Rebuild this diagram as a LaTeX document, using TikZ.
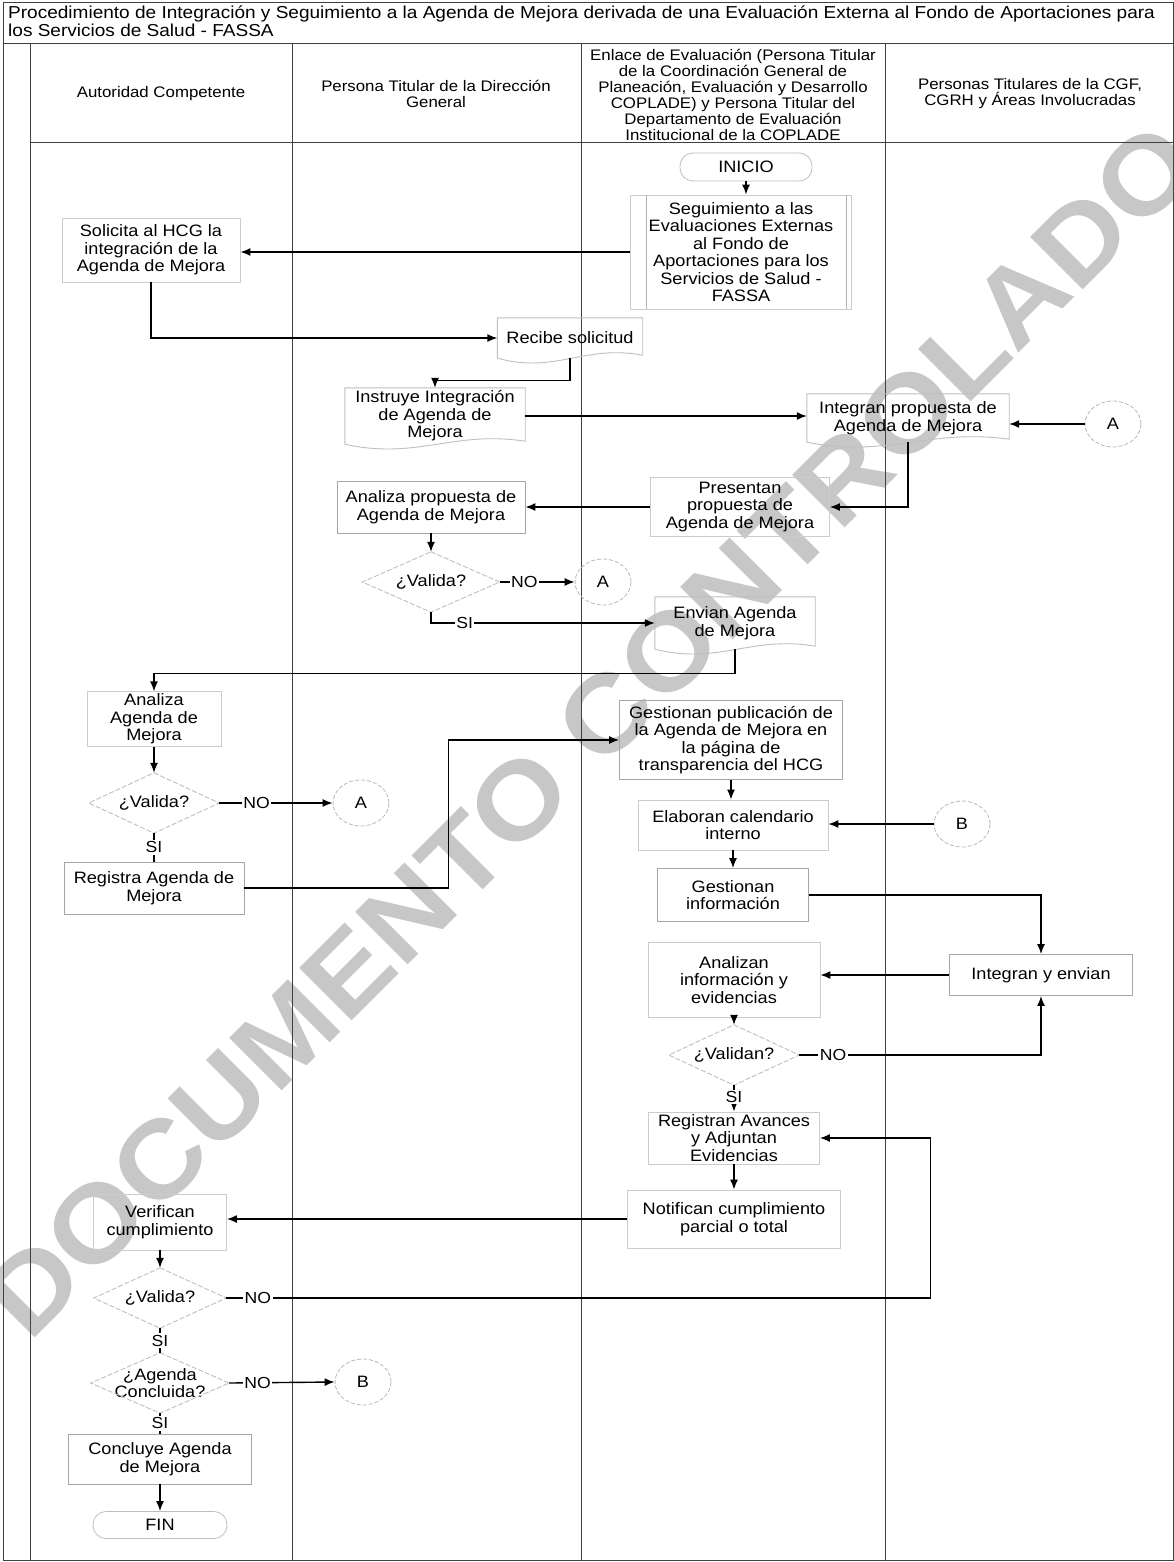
\documentclass[tikz,border=0pt]{standalone}
\usepackage{fontspec}
\setmainfont{Liberation Sans}[FakeStretch=1.1]
\usetikzlibrary{arrows.meta,calc,shapes.geometric}
\tikzset{
  txt/.style={font=\fontsize{16.5}{17.5}\selectfont, align=center, inner sep=2pt},
  pbox/.style={txt, rectangle, draw=gray!70, line width=0.9pt},
  fbox/.style={txt, rectangle, draw=gray!40, line width=0.9pt},
  docnode/.style={txt, rectangle},
  dnode/.style={txt, rectangle, inner sep=0pt},
  fterm/.style={txt, rectangle, draw=gray!50, line width=0.8pt, rounded corners=13pt},
  conn/.style={txt, ellipse, draw=gray!55, line width=0.8pt, dash pattern=on 4pt off 2pt, minimum width=56pt, minimum height=46pt, inner sep=0pt},
  hdr/.style={font=\fontsize{15.3}{16}\selectfont, align=center, inner sep=0pt},
  lane/.style={draw=black!75, line width=1pt},
  flow/.style={draw=black, line width=1.4pt, -{Latex[length=10pt,width=8pt]}},
  plain/.style={draw=black, line width=1.4pt},
  lab/.style={font=\fontsize{16}{16}\selectfont, fill=white, inner sep=1.5pt},
  docline/.style={draw=gray!50, line width=0.9pt},
  dialine/.style={draw=gray!50, line width=0.9pt, dash pattern=on 5pt off 2pt},
  wm/.style={font=\fontsize{108}{108}\selectfont\bfseries, text=black!22, inner sep=0pt}
}
\newcommand{\docshape}[1]{%
  \draw[docline] (#1.south west) -- (#1.north west) -- (#1.north east) -- ([yshift=3pt]#1.south east)
    .. controls ($(#1.south west)!0.6!(#1.south east)+(0,-14)$) and ($(#1.south west)!0.4!(#1.south east)+(0,16)$) .. (#1.south west);}
\newcommand{\diashape}[1]{%
  \draw[dialine] (#1.north) -- (#1.east) -- (#1.south) -- (#1.west) -- cycle;}
\begin{document}
\begin{tikzpicture}[x=1pt,y=-1pt]
\useasboundingbox (0,0) rectangle (1174,1562);
\fill[white] (0,0) rectangle (1174,1562);

% watermark
\node[wm, rotate=45] (wmark) at (590,730) {DOCUMENTO CONTROLADO};

% frame and lanes
\draw[lane] (3,3) rectangle (1173,1560);
\draw[lane] (3,44) -- (1173,44);
\draw[lane] (30,44) -- (30,1560);
\draw[lane] (30,143) -- (1173,143);
\draw[lane] (292,44) -- (292,1560);
\draw[lane] (581,44) -- (581,1560);
\draw[lane] (885,44) -- (885,1560);

\node[font=\fontsize{17.3}{18}\selectfont, align=left, anchor=north west, inner sep=0pt] (title) at (8,6)
  {Procedimiento de Integración y Seguimiento a la Agenda de Mejora derivada de una Evaluación Externa al Fondo de Aportaciones para\\los Servicios de Salud - FASSA};

\node[hdr] (h1) at (161,94) {Autoridad Competente};
\node[hdr] (h2) at (436,94) {Persona Titular de la Dirección\\General};
\node[hdr] (h3) at (733,95) {Enlace de Evaluación (Persona Titular\\de la Coordinación General de\\Planeación, Evaluación y Desarrollo\\COPLADE) y Persona Titular del\\Departamento de Evaluación\\Institucional de la COPLADE};
\node[hdr] (h4) at (1030,94) {Personas Titulares de la CGF,\\CGRH y Áreas Involucradas};

% nodes
\node[fterm, minimum width=132pt, minimum height=28pt] (inicio) at (746,167) {INICIO};
\node[fbox, minimum width=221pt, minimum height=114pt] (seg) at (741,252) {Seguimiento a las\\Evaluaciones Externas\\al Fondo de\\Aportaciones para los\\Servicios de Salud -\\FASSA};
\draw[draw=gray!60, line width=0.9pt] ([xshift=16pt]seg.north west) -- ([xshift=16pt]seg.south west);
\draw[draw=gray!60, line width=0.9pt] ([xshift=-6pt]seg.north east) -- ([xshift=-6pt]seg.south east);
\node[fbox, minimum width=178pt, minimum height=64pt] (solicita) at (151,250) {Solicita al HCG la\\integración de la\\Agenda de Mejora};
\node[docnode, minimum width=145pt, minimum height=40pt] (recibe) at (570,338) {Recibe solicitud};
\node[docnode, minimum width=180pt, minimum height=56pt] (instruye) at (435,416) {Instruye Integración\\de Agenda de\\Mejora};
\node[docnode, minimum width=202pt, minimum height=48pt] (integran) at (908,418) {Integran propuesta de\\Agenda de Mejora};
\node[conn] (A1) at (1113,424) {A};
\node[fbox, minimum width=179pt, minimum height=59pt] (presentan) at (740,507) {Presentan\\propuesta de\\Agenda de Mejora};
\node[pbox, minimum width=188pt, minimum height=52pt] (analizaP) at (431,507) {Analiza propuesta de\\Agenda de Mejora};
\node[dnode, minimum width=137pt, minimum height=60pt] (val1) at (431,582) {¿Valida?};
\node[conn] (A2) at (603,582) {A};
\node[docnode, minimum width=160pt, minimum height=52pt] (envian) at (735,623) {Envian Agenda\\de Mejora};
\node[fbox, minimum width=134pt, minimum height=54pt] (analizaA) at (154,719) {Analiza\\Agenda de\\Mejora};
\node[dnode, minimum width=130pt, minimum height=60pt] (val2) at (154,803) {¿Valida?};
\node[conn] (A3) at (361,803) {A};
\node[pbox, minimum width=180pt, minimum height=52pt] (registra) at (154,888) {Registra Agenda de\\Mejora};
\node[pbox, minimum width=223pt, minimum height=79pt] (gestP) at (731,740) {Gestionan publicación de\\la Agenda de Mejora en\\la página de\\transparencia del HCG};
\node[fbox, minimum width=190pt, minimum height=50pt] (elab) at (733,825) {Elaboran calendario\\interno};
\node[conn] (B1) at (962,824) {B};
\node[pbox, minimum width=151pt, minimum height=53pt] (gestI) at (733,895) {Gestionan\\información};
\node[pbox, minimum width=183pt, minimum height=41pt] (intEnv) at (1041,975) {Integran y envian};
\node[fbox, minimum width=172pt, minimum height=75pt] (analizan) at (734,980) {Analizan\\información y\\evidencias};
\node[dnode, minimum width=130pt, minimum height=60pt] (valn) at (734,1055) {¿Validan?};
\node[fbox, minimum width=171pt, minimum height=52pt] (registran) at (734,1138) {Registran Avances\\y Adjuntan\\Evidencias};
\node[fbox, minimum width=213pt, minimum height=58pt] (notif) at (734,1219) {Notifican cumplimiento\\parcial o total};
\node[fbox, minimum width=133pt, minimum height=56pt] (verif) at (160,1222) {Verifican\\cumplimiento};
\node[dnode, minimum width=132pt, minimum height=60pt] (val3) at (160,1298) {¿Valida?};
\node[dnode, minimum width=138pt, minimum height=60pt] (agc) at (160,1383) {¿Agenda\\Concluida?};
\node[conn] (B2) at (363,1382) {B};
\node[pbox, minimum width=183pt, minimum height=50pt] (concl) at (160,1459) {Concluye Agenda\\de Mejora};
\node[fterm, minimum width=134pt, minimum height=27pt] (fin) at (160,1525) {FIN};

\docshape{recibe}
\docshape{instruye}
\docshape{integran}
\docshape{envian}
\diashape{val1}
\diashape{val2}
\diashape{valn}
\diashape{val3}
\diashape{agc}

% connectors
\draw[flow] (inicio.south) -- (inicio.south |- seg.north);
\draw[flow] (seg.west) -- (seg.west -| solicita.east);
\draw[flow] (solicita.south) |- (recibe.west);
\draw[flow] (recibe.south) -- ++(0,22) -| (instruye.north);
\draw[flow] (instruye.east) -- (instruye.east -| integran.west);
\draw[flow] (A1.west) -- (A1.west -| integran.east);
\draw[flow] (integran.south) |- (presentan.east);
\draw[flow] (presentan.west) -- (presentan.west -| analizaP.east);
\draw[flow] (analizaP.south) -- (analizaP.south |- val1.north);
\draw[flow] (val1.east) -- node[lab, pos=0.33] {NO} (A2.west);
\draw[flow] (val1.south) |- node[lab, pos=0.575] {SI} (envian.west);
\draw[flow] (envian.south) -- ++(0,24) -| (analizaA.north);
\draw[flow] (analizaA.south) -- (analizaA.south |- val2.north);
\draw[flow] (val2.east) -- node[lab, pos=0.33] {NO} (A3.west);
\draw[plain] (val2.south) -- node[lab] {SI} (val2.south |- registra.north);
\draw[flow] (registra.east) -- ++(204,0) |- (gestP.west);
\draw[flow] (gestP.south) -- (gestP.south |- elab.north);
\draw[flow] (B1.west) -- (B1.west -| elab.east);
\draw[flow] (gestI.north |- elab.south) -- (gestI.north);
\draw[flow] (gestI.east) -| (intEnv.north);
\draw[flow] (intEnv.west) -- (intEnv.west -| analizan.east);
\draw[flow] (analizan.south) -- (analizan.south |- valn.north);
\draw[flow] (valn.east) -| node[lab, pos=0.07] {NO} (intEnv.south);
\draw[flow] (valn.south) -- node[lab, pos=0.45] {SI} (valn.south |- registran.north);
\draw[flow] (registran.south) -- (registran.south |- notif.north);
\draw[flow] (notif.west) -- (notif.west -| verif.east);
\draw[flow] (verif.south) -- (verif.south |- val3.north);
\draw[flow] (val3.east) -- node[lab, pos=0.045] {NO} ++(704,0) |- (registran.east);
\draw[plain] (val3.south) -- node[lab] {SI} (val3.south |- agc.north);
\draw[flow] (agc.east) -- node[lab, pos=0.27] {NO} (B2.west);
\draw[plain] (agc.south) -- node[lab] {SI} (agc.south |- concl.north);
\draw[flow] (concl.south) -- (concl.south |- fin.north);
\end{tikzpicture}
\end{document}
